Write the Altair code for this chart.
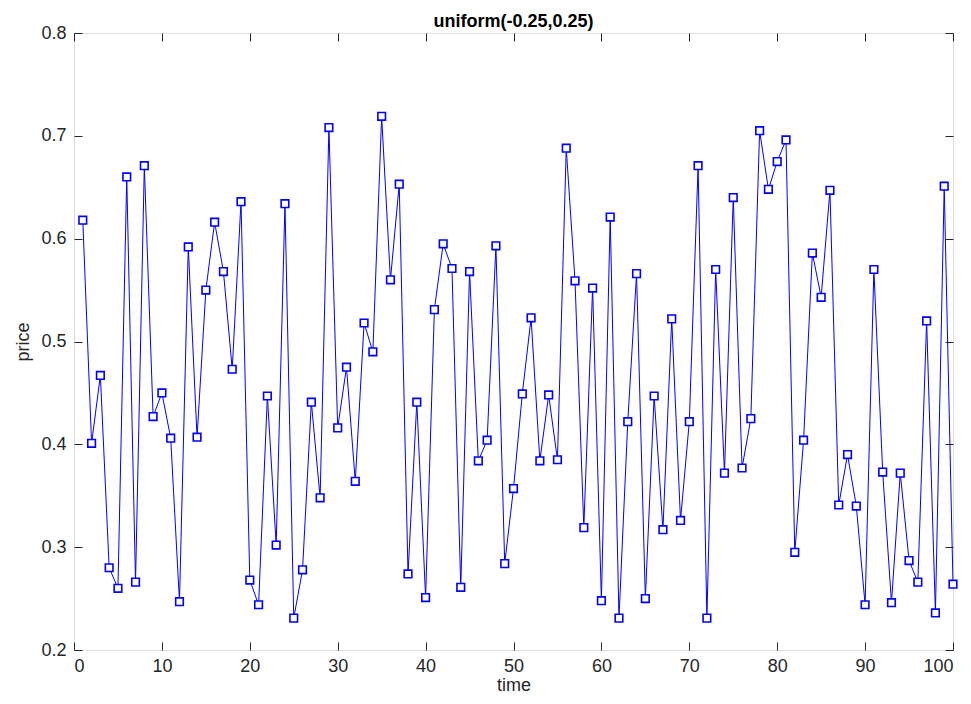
import altair as alt
import pandas as pd

time = list(range(1, 101))
price = [
    0.618, 0.401, 0.467, 0.280, 0.260, 0.660, 0.266, 0.671, 0.427, 0.450,
    0.406, 0.247, 0.592, 0.407, 0.550, 0.616, 0.568, 0.473, 0.636, 0.268,
    0.244, 0.447, 0.302, 0.634, 0.231, 0.278, 0.441, 0.348, 0.708, 0.416,
    0.475, 0.364, 0.518, 0.490, 0.719, 0.560, 0.653, 0.274, 0.441, 0.251,
    0.531, 0.595, 0.571, 0.261, 0.568, 0.384, 0.404, 0.593, 0.284, 0.357,
    0.449, 0.523, 0.384, 0.448, 0.385, 0.688, 0.559, 0.319, 0.552, 0.248,
    0.621, 0.231, 0.422, 0.566, 0.250, 0.447, 0.317, 0.522, 0.326, 0.422,
    0.671, 0.231, 0.570, 0.372, 0.640, 0.377, 0.425, 0.705, 0.648, 0.675,
    0.696, 0.295, 0.404, 0.586, 0.543, 0.647, 0.341, 0.390, 0.340, 0.244,
    0.570, 0.373, 0.246, 0.372, 0.287, 0.266, 0.520, 0.236, 0.651, 0.264,
]
x_ticks = [0, 10, 20, 30, 40, 50, 60, 70, 80, 90, 100]
y_ticks = [0.2, 0.3, 0.4, 0.5, 0.6, 0.7, 0.8]

df = pd.DataFrame({"time": time, "price": price})

FONT = "Liberation Sans"
AX = "#262626"
TICK = 8

xscale = alt.Scale(domain=[0, 100], nice=False, zero=False)
yscale = alt.Scale(domain=[0.2, 0.8], nice=False, zero=False)

common_axis = dict(
    domain=False, grid=False, tickColor=AX, tickSize=TICK, tickWidth=1,
    offset=-TICK, labelColor=AX, labelFont=FONT, labelFontSize=18,
    titleColor=AX, titleFont=FONT, titleFontSize=18, titleFontWeight="normal",
)

line = alt.Chart(df).mark_line(color="#0000ff", strokeWidth=1).encode(
    x=alt.X("time:Q", scale=xscale,
            axis=alt.Axis(orient="bottom", values=x_ticks, format="d",
                          title="time", labelPadding=7, titlePadding=1,
                          **common_axis)),
    y=alt.Y("price:Q", scale=yscale,
            axis=alt.Axis(orient="left", values=y_ticks, format=".1f",
                          title="price", labelPadding=8, titlePadding=8,
                          **common_axis)),
)

pts = alt.Chart(df).mark_point(
    shape="square", filled=True, fill="white", stroke="#0000ff",
    strokeWidth=1.6, size=58, opacity=1
).encode(
    x=alt.X("time:Q", scale=xscale,
            axis=alt.Axis(orient="top", values=x_ticks, labels=False,
                          title=None, **common_axis)),
    y=alt.Y("price:Q", scale=yscale,
            axis=alt.Axis(orient="right", values=y_ticks, labels=False,
                          title=None, **common_axis)),
)

chart = alt.layer(line, pts).resolve_axis(
    x="independent", y="independent"
).properties(
    width=879, height=617,
    title=alt.TitleParams("uniform(-0.25,0.25)", font=FONT, fontSize=18,
                          fontWeight="bold", color="#000000", offset=-7,
                          frame="group", anchor="middle"),
    autosize=alt.AutoSizeParams(type="none"),
    padding={"left": 66, "top": 25, "right": 5, "bottom": 46},
).configure_view(
    stroke=AX, strokeWidth=1
).configure(background="white")

chart.save("out.html", embed_options={"renderer": "svg", "actions": False})
